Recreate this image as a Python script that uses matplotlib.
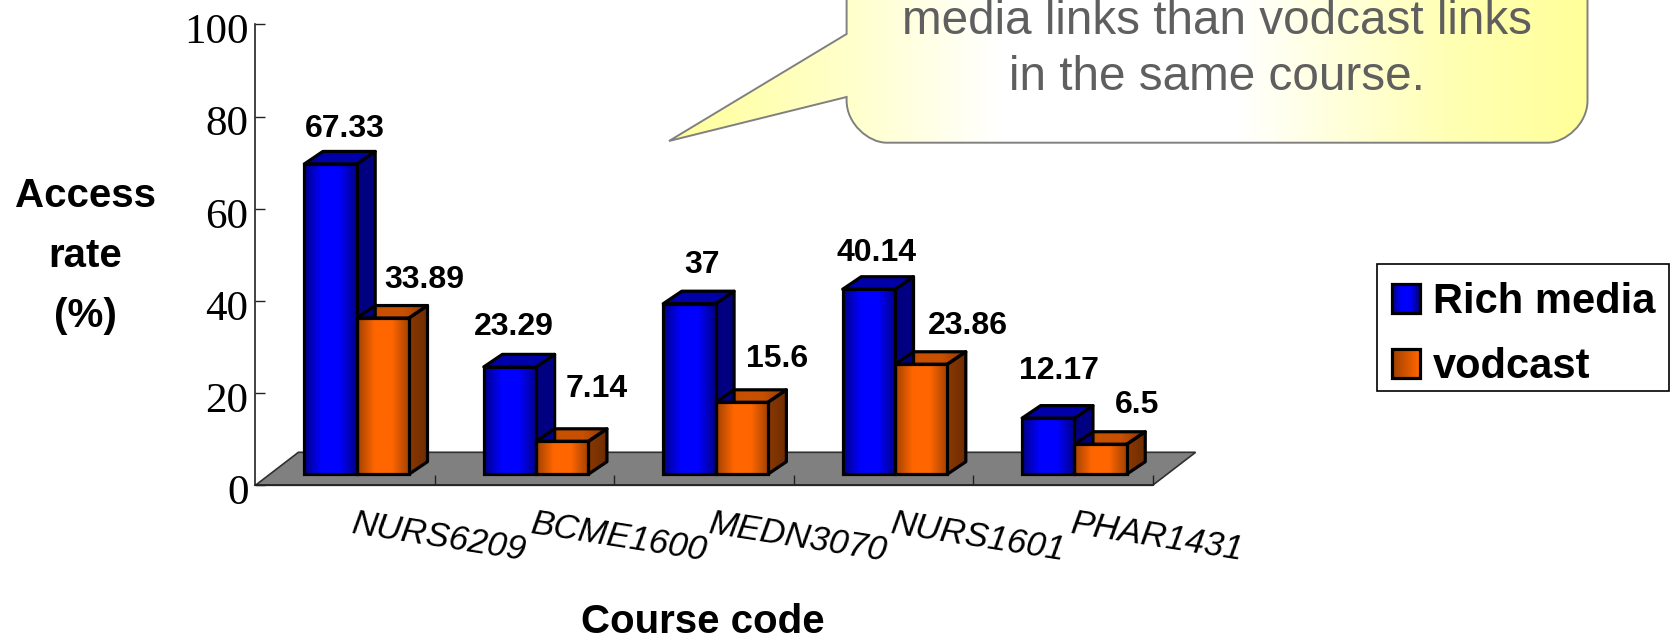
import numpy as np
import matplotlib
matplotlib.use("Agg")
import matplotlib.pyplot as plt
from matplotlib.patches import Polygon, PathPatch, Rectangle
from matplotlib.path import Path
from matplotlib.colors import LinearSegmentedColormap, to_hex
from matplotlib.legend_handler import HandlerBase
from matplotlib.transforms import ScaledTranslation

categories = ["NURS6209", "BCME1600", "MEDN3070", "NURS1601", "PHAR1431"]
rich_media = [67.33, 23.29, 37, 40.14, 12.17]
vodcast = [33.89, 7.14, 15.6, 23.86, 6.5]
rich_labels = ["67.33", "23.29", "37", "40.14", "12.17"]
vodcast_labels = ["33.89", "7.14", "15.6", "23.86", "6.5"]
y_ticks = [0, 20, 40, 60, 80, 100]

W, H = 1671, 641
fig = plt.figure(figsize=(W / 100, H / 100), dpi=100, facecolor="white")
X0, X1, Y0, Y100 = 255.4, 1152.6, 485.3, 24.5
ax = fig.add_axes([X0 / W, 1 - Y0 / H, (X1 - X0) / W, (Y0 - Y100) / H])
ax.patch.set_visible(False)
ux = (X1 - X0) / 5          # px per category
uy = (Y0 - Y100) / 100      # px per value unit
px = lambda v: v / ux
py = lambda v: v / uy

SANS = "Liberation Sans"
SERIF = "Liberation Serif"
LW = 2.3

blue_map = LinearSegmentedColormap.from_list("b", ["#000088", "#0000ff", "#0000ff", "#000088"])
orange_map = LinearSegmentedColormap.from_list("o", ["#a04000", "#ff6600", "#ff6600", "#a04000"])
orange_top = LinearSegmentedColormap.from_list("ot", ["#8a3800", "#c85000", "#c85000", "#8a3800"])
orange_side = LinearSegmentedColormap.from_list("os", ["#8a3800", "#6e2c00"])
grad = np.linspace(0, 1, 128).reshape(1, -1)

# floor
fdx, fdy = px(43), py(33)
ax.add_patch(Polygon([(0, 0), (5, 0), (5 + fdx, fdy), (fdx, fdy)], closed=True,
                     facecolor="#808080", edgecolor="#303030", lw=1.2, clip_on=False, zorder=1))

base_x, base_y = px(49), py(11.1)
bw = px(52.3)
ddx, ddy = px(18.5), py(12.5)


def shaded_face(points, extent, cmap, color, z):
    poly = Polygon(points, closed=True, facecolor=color if cmap is None else "none",
                   edgecolor="black", lw=LW, clip_on=False, zorder=z + 0.1, joinstyle="round")
    ax.add_patch(poly)
    if cmap is not None:
        im = ax.imshow(grad, cmap=cmap, extent=extent, aspect="auto", zorder=z)
        im.set_clip_path(Polygon(points, closed=True, transform=ax.transData))


def bar3d(left, value, cmap, side_c, top_c, side_m=None, top_m=None):
    b = base_y
    t = base_y + value
    r = left + bw
    shaded_face([(r, b), (r + ddx, b + ddy), (r + ddx, t + ddy), (r, t)],
                (r, r + ddx, b, t + ddy), side_m, side_c, 3)
    shaded_face([(left, t), (r, t), (r + ddx, t + ddy), (left + ddx, t + ddy)],
                (left, r + ddx, t, t + ddy), top_m, top_c, 3)
    ax.imshow(grad, cmap=cmap, extent=(left, r, b, t), aspect="auto", zorder=4, clip_on=False)
    ax.add_patch(Rectangle((left, b), bw, value, fill=False, edgecolor="black", lw=LW,
                           clip_on=False, zorder=5))


rich_offsets = [(14, 35), (4, 40), (12.5, 39), (8, 36), (11, 47)]
vod_offsets = [(41, 38), (34.5, 52), (35, 43), (46.5, 38), (36, 39)]

for i in range(len(categories)):
    left = i + base_x
    bar3d(left, rich_media[i], blue_map, "#000080", "#0000a8")
    bar3d(left + bw, vodcast[i], orange_map, "#7a3300", "#bf4d00", orange_side, orange_top)
    for lab, val, l, off in ((rich_labels[i], rich_media[i], left, rich_offsets[i]),
                             (vodcast_labels[i], vodcast[i], left + bw, vod_offsets[i])):
        ax.annotate(lab, xy=(l + bw / 2, base_y + val), xytext=off, textcoords="offset pixels",
                    ha="center", va="center", fontsize=23, fontweight="bold", family=SANS,
                    color="black", annotation_clip=False, zorder=8)

ax.set_xlim(0, 5)
ax.set_ylim(0, 100)
for s in ("top", "right"):
    ax.spines[s].set_visible(False)
for s in ("left", "bottom"):
    ax.spines[s].set_color("#222222")
    ax.spines[s].set_linewidth(1.2)
    ax.spines[s].set_zorder(6)

ax.set_yticks(y_ticks)
ax.set_yticklabels([str(v) for v in y_ticks], family=SERIF, fontsize=31)
ax.tick_params(axis="y", direction="in", length=7, width=1.0, pad=5, color="#222222")
yshift = ScaledTranslation(0, -4 / 100, fig.dpi_scale_trans)
for t in ax.get_yticklabels():
    t.set_transform(t.get_transform() + yshift)
ax.set_xticks(range(1, 6))
ax.set_xticklabels(categories, family=SANS, style="italic", fontsize=25, rotation=-9,
                   rotation_mode="anchor", ha="center", va="center")
ax.tick_params(axis="x", direction="in", length=7, width=1.0, pad=0, color="#222222")
shift = ScaledTranslation(5 / 100, -52 / 100, fig.dpi_scale_trans)
for t in ax.get_xticklabels():
    t.set_transform(t.get_transform() + shift)
    t.set_va("center")

ax.set_ylabel("Access\nrate\n(%)", rotation=0, family=SANS, fontweight="bold", fontsize=29,
              linespacing=1.72, ha="center", va="center")
ax.yaxis.set_label_coords((85 - X0) / (X1 - X0), (Y0 - 256) / (Y0 - Y100))
ax.set_xlabel("Course code", family=SANS, fontweight="bold", fontsize=29, va="center", ha="center")
ax.xaxis.set_label_coords((702.6 - X0) / (X1 - X0), (Y0 - 622) / (Y0 - Y100))


# legend with shaded swatches
class Swatch(HandlerBase):
    def create_artists(self, legend, orig, xd, yd, w, h, fontsize, trans):
        cmap = orig.cmap_ref
        n = 14
        arts = [Rectangle((xd * -1 + w * k / n, -yd), w / n + 0.3, h, facecolor=to_hex(cmap(k / (n - 1))),
                          edgecolor="none", transform=trans) for k in range(n)]
        arts.append(Rectangle((-xd, -yd), w, h, fill=False, edgecolor="black", lw=LW, transform=trans))
        return arts


h1 = Rectangle((0, 0), 1, 1)
h1.cmap_ref = blue_map
h2 = Rectangle((0, 0), 1, 1)
h2.cmap_ref = LinearSegmentedColormap.from_list("l", ["#a04000", "#ff6600"])
fp = {"family": SANS, "weight": "bold", "size": 30}
leg = fig.legend([h1, h2], ["Rich media", "vodcast"], prop=fp, loc="upper left",
                 bbox_to_anchor=(1392 / W, 1 - 282 / H), frameon=False,
                 handlelength=0.68, handleheight=0.68, handletextpad=0.3, labelspacing=0.6,
                 borderpad=0, borderaxespad=0, handler_map={h1: Swatch(), h2: Swatch()})

# overlay in figure pixel coordinates: legend frame and callout
over = fig.add_axes([0, 0, 1, 1], zorder=10)
over.set_xlim(0, W)
over.set_ylim(H, 0)
over.axis("off")
over.add_patch(Rectangle((1377, 263.7), 292, 127, fill=False, edgecolor="black", lw=1.2))

L, R, B, T = 846.6, 1587.5, 142.7, -60
rx, ry, k = 40, 42, 0.45
verts = [(L, T), (L, 34), (669, 141), (L, 97), (L, B - ry),
         (L, B - ry * k), (L + rx * (1 - k), B), (L + rx, B),
         (R - rx, B), (R - rx * (1 - k), B), (R, B - ry * k), (R, B - ry), (R, T), (L, T)]
codes = [Path.MOVETO, Path.LINETO, Path.LINETO, Path.LINETO, Path.LINETO,
         Path.CURVE4, Path.CURVE4, Path.CURVE4,
         Path.LINETO, Path.CURVE4, Path.CURVE4, Path.CURVE4, Path.LINETO, Path.CLOSEPOLY]
path = Path(verts, codes)
callout_map = LinearSegmentedColormap.from_list(
    "c", [(0, "#ffff99"), (0.2, "#ffffcc"), (0.36, "#ffffff"), (0.62, "#ffffff"),
          (0.85, "#ffffb4"), (1, "#ffff99")])
xx = np.linspace(0, 1, 256).reshape(1, -1)
img = over.imshow(xx, cmap=callout_map, extent=(668, R, B + 1, -60), aspect="auto", zorder=1)
patch = PathPatch(path, facecolor="none", edgecolor="#808080", lw=1.4, zorder=2, clip_on=False)
over.add_patch(patch)
img.set_clip_path(patch)
over.set_xlim(0, W)
over.set_ylim(H, 0)
over.text(1217, 34.5, "media links than vodcast links", ha="center", va="baseline", family=SANS,
          fontsize=34.3, color="#5f5f5f", zorder=3)
over.text(1217, 90, "in the same course.", ha="center", va="baseline", family=SANS,
          fontsize=34.3, color="#5f5f5f", zorder=3)

fig.savefig("out.png", dpi=100)
